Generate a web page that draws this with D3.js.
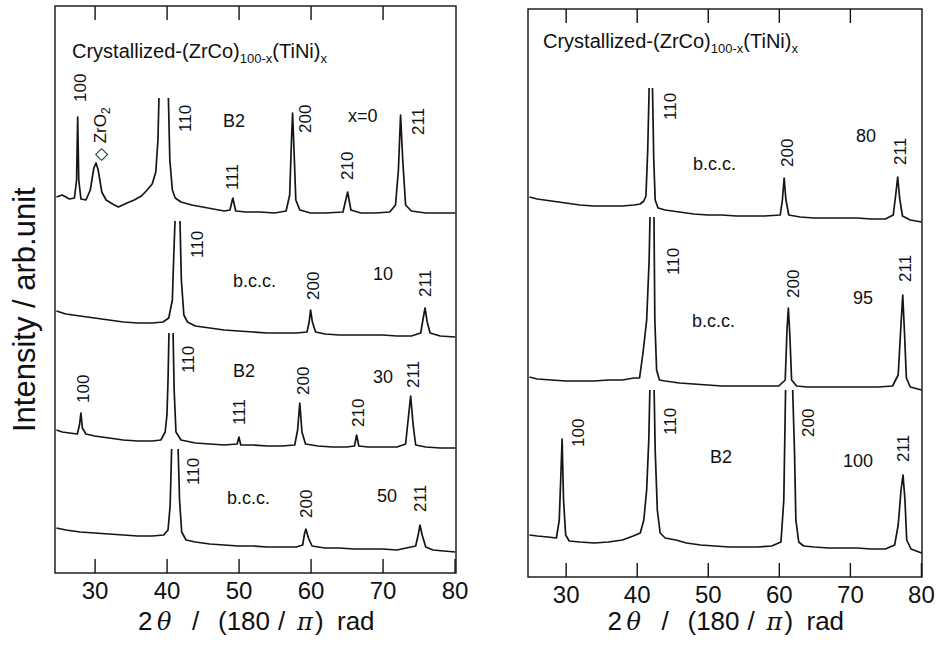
<!DOCTYPE html>
<html><head><meta charset="utf-8">
<script src="https://cdn.jsdelivr.net/npm/d3@7"></script>
<style>
body{margin:0;background:#fff}
text{font-family:"Liberation Sans",Arial,Helvetica,sans-serif;fill:#111}
</style>
</head><body>
<svg id="chart" width="943" height="646"></svg>
<script>
// ---------- data (2θ in degrees, intensity in arb. units above each pattern's own reference) ----------
const xTicks = [30, 40, 50, 60, 70, 80];

// Left panel patterns
const L_x0 = [[24.7,25],[25.5,27],[26.5,23],[27.2,24],[27.5,42],[27.65,105],[27.8,42],[28.1,23],[28.8,22],[29.4,32],[29.9,54],[30.2,59],[30.5,52],[31.0,30],[31.6,22],[32.5,18],[33.3,15],[34.5,19],[35.5,22],[36.5,26],[37.3,32],[38.0,38],[38.5,50],[38.8,82],[38.94,124],[39.6,400],[40.25,124],[40.45,62],[40.8,32],[41.2,24],[42.0,20],[43.5,17],[45,15],[46.5,13],[48,11],[48.8,12],[49.2,24],[49.6,11],[51,10],[53,10],[55,9],[56.6,11],[57.1,27],[57.35,82],[57.5,109],[57.7,72],[57.95,22],[58.5,12],[60,9],[62,9],[64.5,10],[65.15,30],[65.6,12],[67,9],[69,9],[71,10],[71.8,17],[72.2,52],[72.5,107],[72.8,62],[73.2,17],[74,11],[76,9],[78,9],[80.1,9]];
const L_x10 = [[24.7,34],[26,31],[28,29],[30,27],[32,25],[34,23],[36,22],[38,22],[39.5,23],[40.3,27],[40.8,45],[41.0,90],[41.17,124],[41.5,400],[41.86,124],[42.05,65],[42.4,30],[42.9,23],[44,19],[46,17],[48,15],[50,14],[52,13],[54,12],[56,12],[58,12],[59.5,13],[59.8,23],[60.0,35],[60.25,23],[60.7,13],[62,11],[64,10],[66,10],[68,10],[70,10],[72,9],[74,9],[75.3,12],[75.6,25],[75.9,37],[76.2,23],[76.6,12],[78,9],[80.1,8]];
const L_x30 = [[24.7,30],[25.5,28],[26.5,27],[27.6,26],[27.9,35],[28.1,47],[28.3,32],[28.8,26],[30,24],[32,22],[34,20],[36,19],[38,19],[39.2,20],[39.8,28],[40.05,45],[40.2,80],[40.33,127],[40.6,400],[40.9,127],[41.05,70],[41.3,28],[42,20],[44,17],[46,16],[48,15],[49.8,16],[50.05,23],[50.3,15],[52,15],[54,14],[56,14],[57.8,15],[58.2,30],[58.5,57],[58.8,28],[59.3,16],[61,14],[63,13],[65,13],[66.1,14],[66.4,25],[66.7,14],[68,13],[70,13],[72,13],[73.2,16],[73.55,40],[73.9,64],[74.25,35],[74.6,15],[76,13],[78,12],[80.1,12]];
const L_x50 = [[24.7,32],[26,30],[28,28],[30,27],[32,26],[34,25],[36,24],[38,24],[39.6,25],[40.2,30],[40.5,55],[40.7,111],[41.15,400],[41.6,111],[41.8,60],[42.1,28],[42.7,20],[44,18],[46,16],[48,15],[50,14],[52,14],[54,13],[56,13],[58,13],[58.9,15],[59.15,26],[59.35,31],[59.7,22],[60.2,14],[62,12],[64,12],[66,11],[68,11],[70,11],[72,10],[74.6,14],[75.0,27],[75.2,35],[75.5,25],[76.0,13],[77,10],[78.5,9],[80.1,8]];
const leftSeries  = [L_x0, L_x10, L_x30, L_x50];
const leftOffsets = [351, 228, 113, 13];      // vertical stacking offsets
const leftCeil    = [124, 124, 127, 111];     // peaks cut off above this level

// Right panel patterns
const R_x80 = [[24.9,31],[26,29],[28,27],[30,25],[32,23],[34,22],[36,22],[38,22],[39.6,23],[40.5,24],[41.0,27],[41.3,32],[41.55,78],[41.75,140],[42.0,400],[42.22,140],[42.4,68],[42.6,28],[43.0,20],[44,18],[46,16],[48,14],[50,13],[52,13],[54,12],[56,12],[58,12],[60.2,13],[60.5,28],[60.75,50],[61.0,28],[61.4,13],[63,11],[65,10],[67,10],[69,10],[71,10],[73,9],[75,9],[76.1,13],[76.45,33],[76.73,51],[77.0,30],[77.4,12],[78.5,8],[80.1,6]];
const R_x95 = [[24.9,18],[26,16],[28,15],[30,14],[32,14],[34,14],[36,15],[38,15],[39.6,17],[40.4,17],[40.9,43],[41.4,75],[41.75,135],[41.87,178],[42.15,500],[42.43,178],[42.55,75],[42.8,25],[43.2,15],[44,14],[46,12],[48,11],[50,10],[52,9],[54,9],[56,9],[58,9],[60,9],[60.9,15],[61.15,65],[61.34,87],[61.55,60],[61.8,15],[62.5,9],[64,8],[66,8],[68,8],[70,8],[72,8],[74,8],[76,9],[76.8,20],[77.15,65],[77.44,100],[77.7,60],[77.95,17],[78.5,8],[80.1,5]];
const R_x100 = [[24.9,25],[26,24],[27.5,23],[28.7,22],[29.1,40],[29.35,90],[29.5,121],[29.7,60],[30.0,25],[30.5,19],[32,18],[34,17],[36,18],[38,20],[39.5,24],[40.5,27],[41.0,40],[41.4,70],[41.7,120],[41.85,170],[42.15,500],[42.45,170],[42.6,110],[42.9,50],[43.3,27],[44,22],[45.5,20],[47,17],[49,15],[51,14],[53,13],[55,13],[57,13],[59,14],[60.3,18],[60.7,60],[60.95,170],[61.4,500],[61.95,170],[62.2,110],[62.4,40],[62.8,18],[63.5,14],[65,13],[67,12],[69,12],[71,12],[73,11],[75,11],[76.3,15],[76.8,35],[77.2,70],[77.48,85],[77.75,60],[78.0,20],[78.6,11],[80.1,7]];
const rightSeries  = [R_x80, R_x95, R_x100];
const rightOffsets = [349, 182, 17];
const rightCeil    = [140, 178, 170];

// Peak (hkl) labels: [text, 2θ, level]  (rotated)
const leftPeakLabels = [
  ["100",27.97,471],["ZrO2",30.75,412],["110",42.56,441],["111",49.08,383],["200",59.22,440],["210",65.06,393],["211",74.92,438],
  ["110",44.22,315],["200",60.33,273],["211",75.89,276],
  ["100",28.39,170],["110",42.97,200],["111",50.06,148],["200",58.94,178],["210",66.58,146],["211",74.22,185],
  ["110",43.67,88],["200",59.36,55],["211",75.19,61]
];
const leftTextLabels = [
  ["B2",47.83,446],["x=0",65.19,451],
  ["b.c.c.",49.22,286],["10",68.67,293],
  ["B2",49.22,196],["30",68.67,190],
  ["b.c.c.",48.39,69],["50",69.22,71]
];
const rightPeakLabels = [
  ["110",44.69,457],["200",61.11,410],["211",77.06,412],
  ["110",45.11,302],["200",62.0,279],["211",77.76,295],
  ["100",31.74,130],["110",44.69,142],["200",64.11,140],["211",77.48,115]
];
const rightTextLabels = [
  ["b.c.c.",47.92,407],["80",70.86,435],
  ["b.c.c.",47.78,250],["95",70.44,273],
  ["B2",50.32,114],["100",69.03,110]
];

// x-axis title pieces: [text, italic]
const xTitleParts = [["2",false],["θ",true],["/",false],["(180",false],["/",false],["π",true],[")",false],["rad",false]];
const xTitleGaps  = [0, 19, 54, 80, 140, 159, 177, 199];   // advance of each piece from title start (px)

// ---------- drawing ----------
const svg = d3.select("#chart");

function drawPanel(cfg, idx) {
  const x = d3.scaleLinear().domain(cfg.xDomain).range([cfg.left, cfg.right]);
  const y = d3.scaleLinear().domain([0, cfg.yMax]).range([cfg.bottom, cfg.top]);
  const g = svg.append("g");

  // patterns
  cfg.series.forEach((s, i) => {
    const off = cfg.offsets[i];
    const cid = "clip" + idx + "_" + i;
    svg.append("clipPath").attr("id", cid).append("rect")
      .attr("x", cfg.left).attr("width", cfg.right - cfg.left)
      .attr("y", y(off + cfg.ceil[i]))
      .attr("height", cfg.bottom - y(off + cfg.ceil[i]));
    const line = d3.line().x(d => x(d[0])).y(d => y(d[1] + off));
    g.append("path").datum(s).attr("d", line)
      .attr("clip-path", `url(#${cid})`)
      .attr("fill", "none").attr("stroke", "#151515")
      .attr("stroke-width", 1.7).attr("stroke-linejoin", "round");
  });

  // frame
  g.append("rect").attr("x", cfg.left).attr("y", cfg.top)
    .attr("width", cfg.right - cfg.left).attr("height", cfg.bottom - cfg.top)
    .attr("fill", "none").attr("stroke", "#111").attr("stroke-width", 1.4);

  // axes (ticks inward on top and bottom)
  const bottomAxis = d3.axisBottom(x).tickValues(xTicks).tickSizeInner(-14).tickSizeOuter(0).tickPadding(9);
  const gb = g.append("g").attr("transform", `translate(0,${cfg.bottom})`).call(bottomAxis);
  gb.select(".domain").remove();
  gb.selectAll("line").attr("stroke", "#111").attr("stroke-width", 1.4);
  gb.selectAll("text").attr("font-size", 24).attr("font-family", '"Liberation Sans",Arial,sans-serif').attr("fill", "#111");

  const topAxis = d3.axisTop(x).tickValues(xTicks.filter(v => v < 80)).tickSizeInner(-14).tickSizeOuter(0).tickFormat("");
  const gt = g.append("g").attr("transform", `translate(0,${cfg.top})`).call(topAxis);
  gt.select(".domain").remove();
  gt.selectAll("line").attr("stroke", "#111").attr("stroke-width", 1.4);

  // title
  const t = g.append("text").attr("x", cfg.left + cfg.titleDx).attr("y", cfg.top + cfg.titleDy).attr("font-size", 20);
  t.append("tspan").text("Crystallized-(ZrCo)");
  t.append("tspan").attr("font-size", 13).attr("dy", 5).text("100-x");
  t.append("tspan").attr("dy", -5).text("(TiNi)");
  t.append("tspan").attr("font-size", 13).attr("dy", 5).text("x");

  // x title
  const x0 = (cfg.left + cfg.right) / 2 - 117.5;
  const xt = g.append("text").attr("y", 630).attr("font-size", 26);
  xTitleParts.forEach(([txt, it], k) => {
    const sp = xt.append("tspan").attr("x", x0 + xTitleGaps[k]).text(txt);
    if (it) sp.attr("font-style", "italic").attr("font-family", '"DejaVu Serif",serif').attr("font-size", 24);
  });

  // rotated peak labels
  cfg.peakLabels.forEach(([txt, tt, lv]) => {
    const lt = g.append("text")
      .attr("transform", `translate(${x(tt)},${y(lv)}) rotate(-90)`)
      .attr("dy", "0.36em").attr("font-size", 17);
    if (txt === "ZrO2") {
      lt.append("tspan").text("◇ ZrO");
      lt.append("tspan").attr("font-size", 12).attr("dy", 4).text("2");
    } else lt.text(txt);
  });

  // horizontal labels
  cfg.textLabels.forEach(([txt, tt, lv]) => {
    g.append("text").attr("x", x(tt)).attr("y", y(lv)).attr("font-size", 18).text(txt);
  });
}

drawPanel({
  xDomain: [24.5, 80.2], left: 55, right: 456, top: 6, bottom: 573, yMax: 567,
  series: leftSeries, offsets: leftOffsets, ceil: leftCeil,
  peakLabels: leftPeakLabels, textLabels: leftTextLabels, titleDx: 17, titleDy: 52
}, 0);
drawPanel({
  xDomain: [24.7, 80.15], left: 528, right: 922, top: 9, bottom: 577, yMax: 568,
  series: rightSeries, offsets: rightOffsets, ceil: rightCeil,
  peakLabels: rightPeakLabels, textLabels: rightTextLabels, titleDx: 15, titleDy: 39
}, 1);

// y axis title
svg.append("text")
  .attr("transform", "translate(35,432) rotate(-90)")
  .attr("font-size", 31).text("Intensity / arb.unit");
</script>
</body></html>
